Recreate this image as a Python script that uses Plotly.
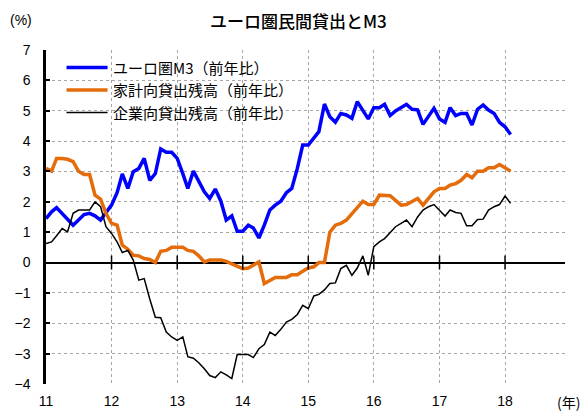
import pandas as pd
import plotly.graph_objects as go

# Monthly year-on-year growth rates (%), Jan 2011 - Feb 2018
months = pd.date_range("2011-01-01", periods=86, freq="MS")

m3 = [1.45, 1.67, 1.81, 1.62, 1.43, 1.23, 1.40, 1.58, 1.62, 1.54, 1.40, 1.62,
      1.89, 2.30, 2.92, 2.44, 2.99, 3.10, 3.43, 2.71, 2.93, 3.74, 3.63, 3.63,
      3.43, 2.93, 2.44, 3.01, 2.66, 2.33, 2.11, 2.42, 2.02, 1.40, 1.54, 1.03,
      1.03, 1.23, 1.14, 0.81, 1.23, 1.73, 1.89, 2.02, 2.30, 2.44, 3.10, 3.87,
      3.87, 4.11, 4.31, 5.22, 4.80, 4.62, 4.91, 4.86, 4.75, 5.30, 5.02, 4.73,
      5.10, 5.10, 5.21, 4.84, 4.99, 5.10, 5.21, 5.05, 5.03, 4.55, 4.80, 5.08,
      4.73, 4.62, 5.10, 4.84, 4.91, 4.91, 4.53, 5.05, 5.19, 5.02, 4.91, 4.62,
      4.47, 4.22]

household = [3.10, 3.01, 3.43, 3.43, 3.40, 3.32, 3.01, 2.90, 2.90, 2.22, 2.09, 1.62,
             1.29, 1.23, 0.57, 0.44, 0.24, 0.22, 0.13, 0.10, 0.00, 0.37, 0.40, 0.50,
             0.50, 0.50, 0.40, 0.37, 0.22, 0.02, 0.08, 0.08, 0.08, 0.04, -0.05, -0.14,
             -0.20, -0.18, -0.07, 0.02, -0.69, -0.58, -0.49, -0.49, -0.49, -0.40, -0.40, -0.29,
             -0.18, -0.14, 0.00, 0.00, 1.00, 1.23, 1.29, 1.40, 1.62, 1.80, 2.02, 1.91,
             1.91, 2.22, 2.22, 2.20, 2.05, 1.89, 1.91, 2.00, 2.11, 1.89, 2.11, 2.33,
             2.44, 2.44, 2.55, 2.60, 2.71, 2.90, 2.79, 3.01, 3.01, 3.12, 3.12, 3.23,
             3.12, 3.01]

corporate = [0.63, 0.68, 0.88, 1.12, 1.01, 1.62, 1.73, 1.73, 1.73, 2.00, 1.84, 1.18,
             0.96, 0.68, 0.33, 0.40, 0.08, -0.58, -0.53, -1.20, -1.80, -1.82, -2.29, -2.45,
             -2.56, -2.45, -3.10, -3.15, -3.30, -3.50, -3.72, -3.79, -3.60, -3.70, -3.82, -3.03,
             -3.03, -3.03, -3.13, -2.84, -2.70, -2.29, -2.40, -2.20, -1.96, -1.87, -1.71, -1.41,
             -1.52, -1.10, -1.05, -0.90, -0.69, -0.67, -0.20, -0.09, -0.42, -0.18, 0.22, -0.42,
             0.52, 0.68, 0.79, 0.99, 1.18, 1.29, 1.40, 1.18, 1.50, 1.73, 1.84, 1.91,
             1.73, 1.53, 1.73, 1.65, 1.62, 1.21, 1.21, 1.42, 1.43, 1.73, 1.84, 1.91,
             2.19, 1.95]

series_names = ["ユーロ圏M3（前年比）", "家計向貸出残高（前年比）", "企業向貸出残高（前年比）"]
series_colors = ["#0000FF", "#E46C0A", "#000000"]
series_widths = [3.5, 3.5, 1.5]

year_ticks = pd.date_range("2011-01-01", "2018-01-01", freq="YS")
y_ticks = list(range(-4, 8))

JP = "Noto Sans CJK JP"
NUM = "Liberation Sans"

fig = go.Figure()
for name, vals, col, w in zip(series_names, [m3, household, corporate], series_colors, series_widths):
    fig.add_trace(go.Scatter(x=months, y=vals, mode="lines", name=name,
                             line=dict(color=col, width=w), showlegend=False))

# Cross-shaped year ticks on the zero line
fig.add_trace(go.Scatter(x=year_ticks[1:], y=[0] * (len(year_ticks) - 1), mode="markers",
                         marker=dict(symbol="line-ns", size=10,
                                     line=dict(color="black", width=1.5)),
                         hoverinfo="skip", showlegend=False))

# Hand-drawn legend (line sample + label) in the upper-left of the plot
L, R, T, B = 46.5, 565.0, 50.0, 384.0
def px_x(p):
    return (p - L) / (R - L)
def px_y(p):
    return (B - p) / (B - T)

shapes, annotations = [], []
for i, (name, col, w) in enumerate(zip(series_names, series_colors, series_widths)):
    yy = px_y(67.5 + 22.5 * i)
    shapes.append(dict(type="line", xref="paper", yref="paper",
                       x0=px_x(67), x1=px_x(108), y0=yy, y1=yy,
                       line=dict(color=col, width=w)))
    annotations.append(dict(text=name, xref="paper", yref="paper", x=px_x(111), y=yy,
                            xanchor="left", yanchor="middle", showarrow=False,
                            font=dict(family=JP, size=15, color="black")))

annotations += [
    dict(text="ユーロ圏民間貸出とM3", xref="paper", yref="paper", x=px_x(299), y=px_y(20),
         xanchor="center", yanchor="middle", showarrow=False,
         font=dict(family=JP, size=17, color="black", weight=500)),
    dict(text="(%)", xref="paper", yref="paper", x=px_x(22), y=px_y(20),
         xanchor="center", yanchor="middle", showarrow=False,
         font=dict(family=NUM, size=14, color="black")),
    dict(text="(年)", xref="paper", yref="paper", x=px_x(568), y=px_y(402),
         xanchor="center", yanchor="middle", showarrow=False,
         font=dict(family=JP, size=14, color="black")),
]

fig.update_layout(
    width=584, height=414,
    margin=dict(l=46, r=19, t=50, b=30),
    paper_bgcolor="white", plot_bgcolor="white",
    shapes=shapes, annotations=annotations,
    xaxis=dict(type="date", range=["2011-01-01", "2018-12-01"],
               tickvals=year_ticks, tickformat="%y", automargin=False,
               showgrid=True, gridcolor="#a6a6a6", griddash="dot", gridwidth=1,
               showline=False, zeroline=False, ticks="",
               ticklabelstandoff=7,
               tickfont=dict(family=NUM, size=14, color="black")),
    yaxis=dict(range=[-4, 7], tickvals=y_ticks, automargin=False,
               showgrid=True, gridcolor="#a6a6a6", griddash="dot", gridwidth=1,
               zeroline=True, zerolinecolor="black", zerolinewidth=2,
               showline=True, linecolor="black", linewidth=2.5,
               ticks="inside", ticklen=4, tickwidth=1.5, tickcolor="black",
               ticklabelstandoff=10,
               tickfont=dict(family=NUM, size=14, color="black")),
)

fig.write_html("out.html")
